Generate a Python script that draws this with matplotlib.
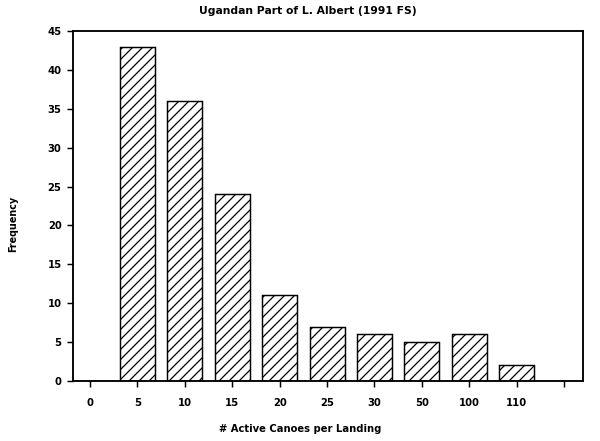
import matplotlib
matplotlib.use('Agg')
import matplotlib.pyplot as plt

# data
landing_classes = ['0', '5', '10', '15', '20', '25', '30', '50', '100', '110']
frequency = [0, 43, 36, 24, 11, 7, 6, 5, 6, 2]
y_ticks = [0, 5, 10, 15, 20, 25, 30, 35, 40, 45]

plt.rcParams['font.family'] = 'DejaVu Sans'
plt.rcParams['font.weight'] = 'bold'
plt.rcParams['hatch.linewidth'] = 0.6

fig = plt.figure(figsize=(4, 2.94), dpi=150)
ax = fig.add_axes([73 / 600, 1 - 381 / 441, 510 / 600, 350 / 441])

pos = list(range(len(landing_classes)))
ax.bar(pos, frequency, width=0.74, color='white', edgecolor='black',
       linewidth=0.7, hatch='/////')

ax.set_xlim(-0.36, 10.4)
ax.set_ylim(0, 45)
ax.set_xticks(pos + [len(landing_classes)])
ax.set_xticklabels(landing_classes + [''], fontsize=4.8, fontweight='bold')
ax.set_yticks(y_ticks)
ax.set_yticklabels([str(v) for v in y_ticks], fontsize=4.8, fontweight='bold')
ax.tick_params(axis='both', direction='out', length=3, width=0.7, colors='black')
ax.tick_params(axis='x', pad=5)
ax.tick_params(axis='y', pad=2.5)
for s in ax.spines.values():
    s.set_linewidth(0.9)

ax.set_title('Ugandan Part of L. Albert (1991 FS)', fontsize=5.2,
             fontweight='bold', x=0.46, pad=8)
ax.set_xlabel('# Active Canoes per Landing', fontsize=4.8, fontweight='bold',
              x=0.445, labelpad=8)
ax.set_ylabel('Frequency', fontsize=4.6, fontweight='bold', y=0.449, labelpad=14)

fig.savefig('out.png', dpi=150)
